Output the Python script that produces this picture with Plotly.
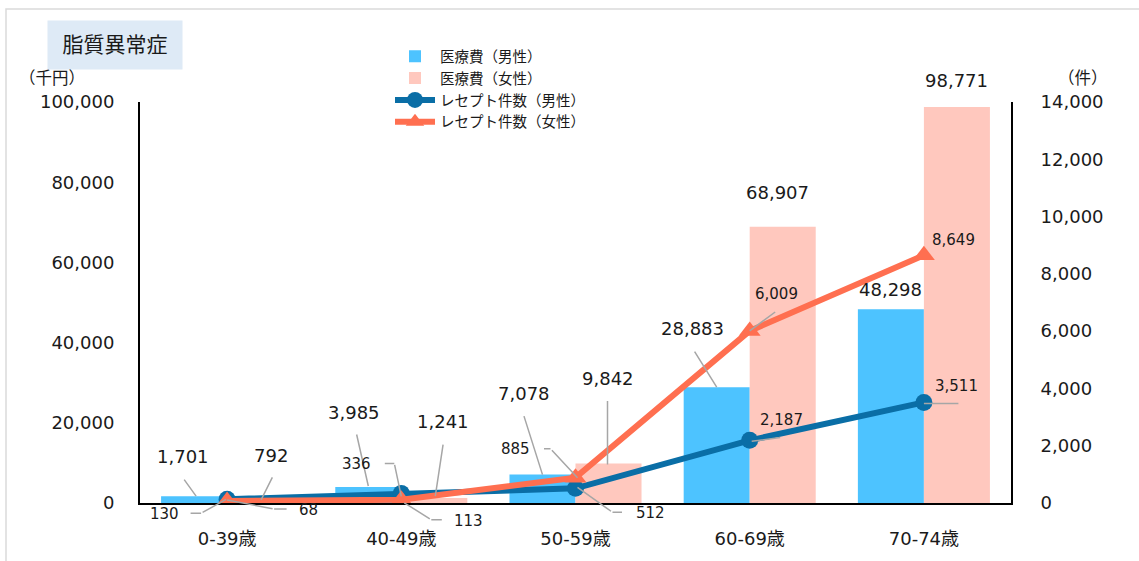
import plotly.graph_objects as go

# ---------------- data ----------------
categories = ["0-39歳", "40-49歳", "50-59歳", "60-69歳", "70-74歳"]
cost_male = [1701, 3985, 7078, 28883, 48298]        # 医療費（男性） 千円
cost_female = [792, 1241, 9842, 68907, 98771]       # 医療費（女性） 千円
count_male = [130, 336, 512, 2187, 3511]            # レセプト件数（男性） 件
count_female = [68, 113, 885, 6009, 8649]           # レセプト件数（女性） 件
left_ticks = [0, 20000, 40000, 60000, 80000, 100000]
right_ticks = [0, 2000, 4000, 6000, 8000, 10000, 12000, 14000]

# ---------------- styles ----------------
FONT = "DejaVu Sans, Noto Sans CJK JP, sans-serif"
C_MALE_BAR = "#4DC3FF"
C_FEMALE_BAR = "#FFC8BE"
C_MALE_LINE = "#0A6EA6"
C_FEMALE_LINE = "#FF6F50"
C_LEADER = "#A6A6A6"

# label placement: (text dx, text dy, leader segments) in screen pixels (y down),
# relative to the bar top / marker of each value
cost_male_lbl = [(-11, -40, [((-11, -18), (2, 0))]),
                 (-14, -75, [((-12, -54), (0, -1))]),
                 (-19, -81, [((-19, -60), (0, 0))]),
                 (-24, -59, [((-23, -37), (0, 0))]),
                 (0, -20, [])]
cost_female_lbl = [(11, -44, [((13, -24), (1, 0))]),
                   (9, -77, [((9, -55), (1, -2))]),
                   (-1, -85, [((-1, -64), (-1, 1))]),
                   (-5, -34, []),
                   (0, -26, [])]
count_male_lbl = [(-63, 15, [((-38, 14), (-26, 14)), ((-26, 14), (-1, 0))]),
                  (-45, -29, [((-18, -30), (-7, -30)), ((-7, -30), (0, 3))]),
                  (75, 25, [((48, 24), (37, 24)), ((37, 24), (2, -1))]),
                  (32, -20, [((32, -3), (2, 1))]),
                  (33, -16, [((36, 1), (0, 1))])]
count_female_lbl = [(81, 9, [((61, 8), (47, 8)), ((47, 8), (0, -1))]),
                    (67, 21, [((42, 20), (30, 20)), ((30, 20), (3, 3))]),
                    (-60, -29, [((-33, -29), (-25, -29)), ((-25, -29), (2, 0))]),
                    (27, -37, [((27, -20), (0, 0))]),
                    (30, -15, [])]

BAR_OFF = 33  # half bar width in px

fig = go.Figure()
fig.add_trace(go.Bar(x=categories, y=cost_male, name="医療費（男性）",
                     marker=dict(color=C_MALE_BAR, line=dict(width=0)), yaxis="y"))
fig.add_trace(go.Bar(x=categories, y=cost_female, name="医療費（女性）",
                     marker=dict(color=C_FEMALE_BAR, line=dict(width=0)), yaxis="y"))
fig.add_trace(go.Scatter(x=categories, y=count_male, name="レセプト件数（男性）",
                         mode="lines+markers", yaxis="y2",
                         line=dict(color=C_MALE_LINE, width=6),
                         marker=dict(symbol="circle", size=17, color=C_MALE_LINE)))
fig.add_trace(go.Scatter(x=categories, y=count_female, name="レセプト件数（女性）",
                         mode="lines+markers", yaxis="y2",
                         line=dict(color=C_FEMALE_LINE, width=6),
                         marker=dict(symbol="triangle-up", size=19, color=C_FEMALE_LINE)))

annotations = []


def add_labels(values, lbls, yref, base_dx, size):
    for i, (v, (dx, dy, segs)) in enumerate(zip(values, lbls)):
        annotations.append(dict(x=i, y=v, xref="x", yref=yref, text=f"{v:,}",
                                showarrow=False, xshift=base_dx + dx, yshift=-dy,
                                xanchor="center", yanchor="middle",
                                font=dict(family=FONT, size=size, color="#1a1a1a")))
        for (ax_, ay_), (bx, by) in segs:
            annotations.append(dict(x=i, y=v, xref="x", yref=yref, text="",
                                    font=dict(size=1), showarrow=True, arrowhead=0,
                                    arrowwidth=1.5, arrowcolor=C_LEADER,
                                    xshift=base_dx + bx, yshift=-by,
                                    ax=ax_ - bx, ay=ay_ - by, standoff=0, startstandoff=0))


add_labels(cost_male, cost_male_lbl, "y", -BAR_OFF, 18)
add_labels(cost_female, cost_female_lbl, "y", BAR_OFF, 18)
add_labels(count_male, count_male_lbl, "y2", 0, 15)
add_labels(count_female, count_female_lbl, "y2", 0, 15)

# plot area in px: left 140, right 1011, top 102, bottom 505
PL, PR, PT, PB = 140, 1011, 102, 505
W, H = PR - PL, PB - PT


def px(xp):
    return (xp - PL) / W


def py(yp):
    return (PB - yp) / H


annotations.append(dict(xref="paper", yref="paper", x=px(115), y=py(45),
                        xanchor="center", yanchor="middle",
                        text="脂質異常症", showarrow=False, width=132, height=46,
                        bgcolor="#DEEAF6", font=dict(family=FONT, size=21, color="#1a1a1a")))
annotations.append(dict(xref="paper", yref="paper", x=px(52), y=py(78),
                        xanchor="center", yanchor="middle",
                        text="（千円）", showarrow=False,
                        font=dict(family=FONT, size=16.5, color="#1a1a1a")))
annotations.append(dict(xref="paper", yref="paper", x=px(1083), y=py(78),
                        xanchor="center", yanchor="middle",
                        text="（件）", showarrow=False,
                        font=dict(family=FONT, size=16.5, color="#1a1a1a")))

shapes = [dict(type="rect", xref="paper", yref="paper",
               x0=px(6), x1=px(1160), y0=py(580), y1=py(8.5),
               line=dict(color="#DADADA", width=1.5), fillcolor="rgba(0,0,0,0)", layer="below")]

fig.update_layout(
    width=1139, height=561,
    margin=dict(l=PL, r=1139 - PR, t=PT, b=561 - PB, pad=0),
    paper_bgcolor="white", plot_bgcolor="white",
    font=dict(family=FONT, size=18, color="#1a1a1a"),
    barmode="group", bargap=0.242, bargroupgap=0,
    showlegend=True,
    legend=dict(x=px(390), y=py(40), xanchor="left", yanchor="top",
                bgcolor="rgba(0,0,0,0)", font=dict(family=FONT, size=14.5, color="#1a1a1a"),
                traceorder="normal", tracegroupgap=0, itemwidth=40),
    xaxis=dict(showline=True, linecolor="black", linewidth=2, ticks="", showgrid=False,
               zeroline=False, ticklabelstandoff=18, tickfont=dict(size=18)),
    yaxis=dict(range=[0, 100000], tickvals=left_ticks, tickformat=",", showline=True,
               linecolor="black", linewidth=2, ticks="", showgrid=False, zeroline=False,
               ticklabelstandoff=20, tickfont=dict(size=18)),
    yaxis2=dict(range=[0, 14000], tickvals=right_ticks, tickformat=",", overlaying="y",
                side="right", showline=True, linecolor="black", linewidth=2, ticks="",
                showgrid=False, zeroline=False, ticklabelstandoff=24, tickfont=dict(size=18)),
    annotations=annotations,
    shapes=shapes,
)

fig.write_html("out.html")
